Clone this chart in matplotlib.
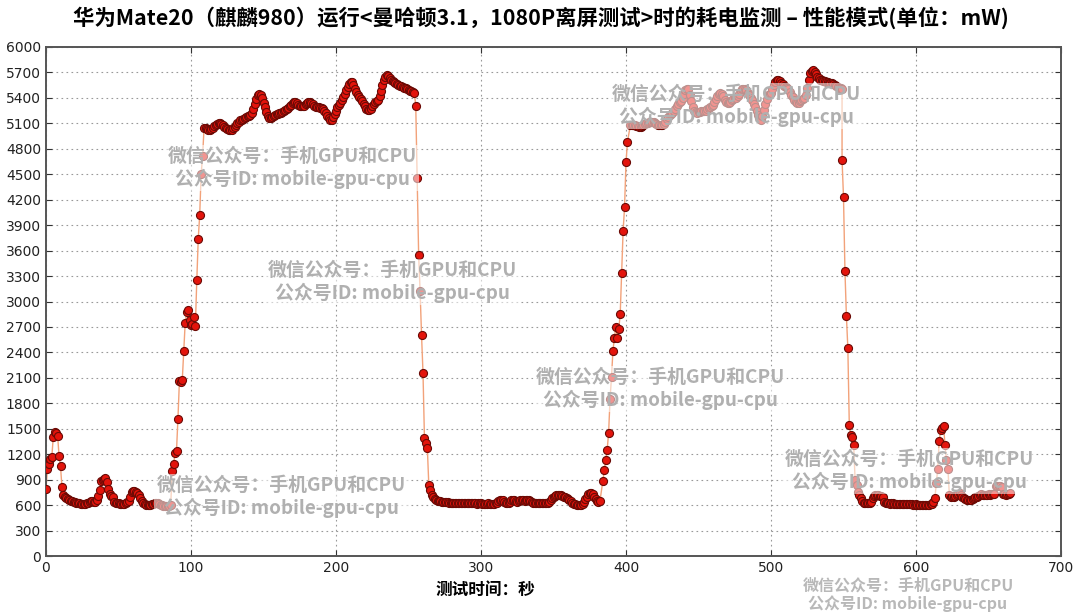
import numpy as np
import matplotlib
matplotlib.use("Agg")
import matplotlib.pyplot as plt

plt.rcParams['font.family'] = ['DejaVu Sans']

# ---------------- data (mW), one sample per second ----------------
low1_mw = [790, 1030, 1085, 1145, 1165, 1400, 1460, 1450, 1420, 1180, 1060, 810, 720, 695, 680,
           668, 660, 652, 645, 638, 632, 628, 625, 620, 615, 612, 612, 615, 620, 628,
           640, 650, 652, 640, 632, 660, 710, 780, 880, 895, 905, 925, 870, 790, 730,
           712, 700, 640, 630, 625, 620, 618, 615, 612, 615, 625, 632, 650, 700, 755,
           765, 762, 760, 745, 720, 680, 650, 625, 612, 605, 600, 600, 605, 612, 618,
           625, 630, 620, 610, 602, 598, 595, 592, 590, 592, 595, 600]
rise1_mw = [1000, 1080, 1220, 1240, 1620, 2060, 2050, 2080, 2420, 2750, 2880, 2900, 2780,
            2720, 2730, 2820, 2710, 3250, 3740, 4020, 4500, 4720]
plateau1_mw = [5040, 5040, 5030, 5025, 5020, 5035, 5050, 5070, 5085, 5095, 5100, 5100, 5090,
               5075, 5060, 5045, 5035, 5025, 5020, 5025, 5040, 5060, 5080, 5100, 5120, 5135,
               5145, 5150, 5160, 5175, 5185, 5190, 5200, 5220, 5270, 5330, 5390, 5430, 5450,
               5440, 5400, 5340, 5290, 5230, 5190, 5165, 5160, 5170, 5185, 5200, 5210, 5215,
               5220, 5225, 5235, 5245, 5255, 5265, 5280, 5300, 5320, 5340, 5355, 5355, 5340,
               5320, 5305, 5300, 5300, 5310, 5325, 5345, 5355, 5355, 5345, 5325, 5305, 5295,
               5295, 5290, 5285, 5280, 5270, 5250, 5220, 5190, 5160, 5145, 5140, 5170, 5210,
               5250, 5290, 5320, 5345, 5375, 5410, 5450, 5490, 5530, 5565, 5590, 5585, 5550,
               5510, 5470, 5440, 5415, 5390, 5360, 5330, 5300, 5275, 5260, 5255, 5270, 5300,
               5330, 5350, 5365, 5380, 5420, 5480, 5550, 5610, 5650, 5670, 5660, 5630, 5610,
               5595, 5585, 5575, 5565, 5555, 5545, 5540, 5530, 5520, 5515, 5505, 5495, 5485,
               5478, 5470, 5460]
drop1_mw = [5310, 4450, 3550, 3120, 2600, 2160, 1390, 1330, 1270, 840, 780, 720, 690, 670,
            660, 650]
low2_mw = [645, 645, 642, 640, 638, 635, 632, 630, 630, 628, 628, 630, 628, 625, 625, 628,
           630, 630, 628, 625, 622, 622, 620, 620, 622, 620, 618, 620, 622, 620, 618, 615,
           615, 618, 620, 618, 615, 615, 618, 620, 630, 645, 660, 662, 655, 640, 630, 628,
           630, 640, 655, 662, 660, 650, 640, 645, 658, 662, 660, 650, 655, 660, 658, 650,
           640, 630, 625, 622, 620, 620, 620, 622, 620, 622, 625, 630, 640, 660, 680, 700,
           712, 718, 720, 720, 718, 712, 700, 690, 680, 670, 660, 645, 630, 618, 610, 605,
           602, 600, 602, 615, 640, 670, 700, 725, 738, 740, 730, 700, 670, 650, 640, 645]
rise2_mw = [880, 1010, 1130, 1250, 1450, 1850, 2110, 2420, 2570, 2700, 2570, 2670, 2850,
            3340, 3830, 4110, 4640, 4880]
plateau2_mw = [5080, 5085, 5080, 5075, 5070, 5065, 5060, 5060, 5065, 5075, 5090, 5100, 5110,
               5115, 5120, 5120, 5115, 5105, 5095, 5085, 5080, 5078, 5080, 5095, 5120, 5150,
               5180, 5200, 5215, 5220, 5240, 5270, 5300, 5330, 5350, 5365, 5400, 5450, 5490,
               5510, 5500, 5440, 5360, 5290, 5245, 5230, 5225, 5230, 5235, 5240, 5240, 5240,
               5250, 5265, 5280, 5295, 5310, 5320, 5350, 5390, 5420, 5445, 5455, 5450, 5420,
               5380, 5350, 5335, 5340, 5355, 5370, 5385, 5395, 5400, 5420, 5450, 5480, 5500,
               5510, 5510, 5490, 5460, 5430, 5400, 5370, 5330, 5290, 5250, 5200, 5160, 5140,
               5190, 5260, 5330, 5390, 5430, 5450, 5460, 5500, 5550, 5590, 5610, 5610, 5600,
               5580, 5560, 5540, 5525, 5515, 5500, 5470, 5440, 5410, 5380, 5355, 5340, 5345,
               5360, 5375, 5390, 5400, 5440, 5520, 5610, 5690, 5720, 5730, 5710, 5680, 5650,
               5630, 5615, 5610, 5600, 5595, 5590, 5585, 5580, 5575, 5570, 5560, 5550, 5540,
               5530, 5520, 5515, 5510]
drop2_mw = [4670, 4230, 3360, 2830, 2450, 1540, 1430, 1400, 1310, 900, 840, 760, 720, 680,
            650, 630]
low3_mw = [630, 628, 628, 630, 640, 680, 710, 718, 718, 715, 710, 708, 690, 640, 622, 620,
           620, 618, 622, 620, 618, 615, 615, 618, 615, 612, 612, 615, 612, 610, 608, 610,
           608, 605, 605, 608, 605, 603, 605, 602, 600, 602, 600, 603, 605, 608, 610, 640,
           680, 860, 1030, 1360, 1480, 1510, 1530, 1310, 1130, 1030, 720, 700, 705, 700,
           710, 720, 735, 740, 720, 690, 680, 670, 665, 660, 660, 665, 670, 680, 690, 700,
           710, 720, 725, 720, 715, 720, 722, 725, 720, 725, 730, 735, 820, 830, 828, 825,
           815, 730, 725, 720, 725, 730, 740]

segments_mw = [low1_mw, rise1_mw, plateau1_mw, drop1_mw, low2_mw,
               rise2_mw, plateau2_mw, drop2_mw, low3_mw]
segment_start_s = [0, 87, 109, 255, 271, 384, 403, 549, 565]

x_ticks = list(range(0, 701, 100))
y_ticks = list(range(0, 6001, 300))

title_text = "华为Mate20（麒麟980）运行<曼哈顿3.1，1080P离屏测试>时的耗电监测 – 性能模式(单位：mW)"
xlabel_text = "测试时间：秒"
wm_text = "微信公众号：手机GPU和CPU\n公众号ID: mobile-gpu-cpu"

# ---------------- build series ----------------
t_all, v_all = [], []
for start, seg in zip(segment_start_s, segments_mw):
    t_all.extend(start + np.arange(len(seg)))
    v_all.extend(seg)
t_all = np.array(t_all, dtype=float)
v_all = np.array(v_all, dtype=float)

# ---------------- figure ----------------
fig = plt.figure(figsize=(10.8, 6.15), dpi=100)
ax = fig.add_axes([46/1080, 1-556/615, (1061-46)/1080, (556-47)/615])

ax.plot(t_all, v_all, color='#f2a27a', lw=1.0, zorder=2)
ax.plot(t_all, v_all, linestyle='none', marker='o', ms=5.8,
        mfc='#e3140c', mec='#6a0a05', mew=0.8, zorder=3)

ax.set_xlim(0, 700)
ax.set_ylim(0, 6000)
ax.set_xticks(x_ticks)
ax.set_yticks(y_ticks)
ax.tick_params(direction='in', top=True, right=True, labelsize=10, length=4,
               colors='#333333', labelcolor='#222222')
ax.grid(True, linestyle=(0, (1.5, 3)), color='#999999', lw=0.8)
for s in ax.spines.values():
    s.set_color('#555555')
    s.set_linewidth(1.4)

fig.text(541/1080, 1-18/615, title_text, ha='center', va='center', fontsize=15.4,
         fontweight='bold', family=['Noto Sans CJK SC', 'DejaVu Sans'])
fig.text(485/1080, 1-590/615, xlabel_text, ha='center', va='center', fontsize=12,
         fontweight='bold', family=['Noto Sans CJK SC', 'DejaVu Sans'])

wm_positions = [(292, 168), (392, 282), (660, 389), (909, 471), (736, 106), (281, 497)]
for (px, py) in wm_positions:
    fig.text(px/1080, 1-py/615, wm_text, ha='center', va='center', fontsize=13.6,
             fontweight='bold', color='#b0b0b0', linespacing=1.15,
             family=['Noto Sans CJK SC', 'DejaVu Sans'], zorder=10,
             bbox=dict(boxstyle='square,pad=0.1', fc='white', ec='none', alpha=0.55))
fig.text(908/1080, 1-595/615, wm_text, ha='center', va='center', fontsize=11.5,
         fontweight='bold', color='#b8b8b8', linespacing=1.1,
         family=['Noto Sans CJK SC', 'DejaVu Sans'], zorder=10)

fig.savefig('out.png', dpi=100)
